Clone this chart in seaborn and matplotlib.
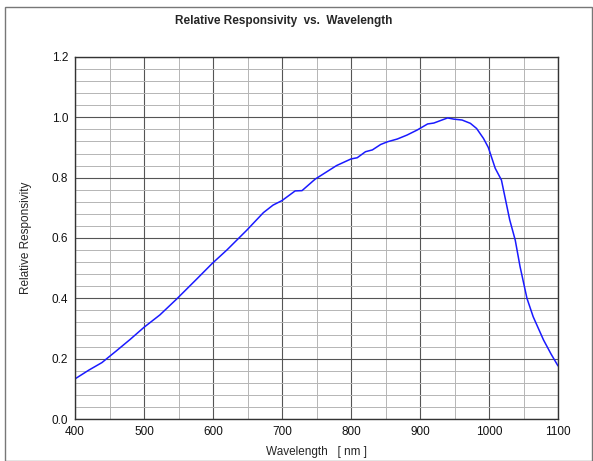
import numpy as np
import pandas as pd
import seaborn as sns
import matplotlib.pyplot as plt
from matplotlib.patches import Rectangle
from matplotlib.ticker import MultipleLocator

wavelength = [400, 420, 439, 460, 480, 500, 523, 547, 576, 599, 620, 649, 673, 687, 700,
              719, 729, 741, 748, 779, 800, 809, 821, 831, 843, 853, 867, 881, 896, 911,
              920, 940, 949, 961, 973, 982, 992, 999, 1009, 1018, 1030, 1038, 1045, 1055,
              1064, 1079, 1090, 1100]
responsivity = [0.133, 0.162, 0.187, 0.226, 0.264, 0.304, 0.345, 0.397, 0.463, 0.516, 0.56,
                0.626, 0.684, 0.709, 0.724, 0.756, 0.757, 0.781, 0.795, 0.84, 0.862, 0.866,
                0.886, 0.892, 0.91, 0.919, 0.928, 0.941, 0.958, 0.978, 0.981, 0.998, 0.994,
                0.991, 0.98, 0.963, 0.93, 0.90, 0.831, 0.792, 0.66, 0.593, 0.505, 0.40,
                0.339, 0.262, 0.215, 0.176]

df = pd.DataFrame({'wavelength': wavelength, 'responsivity': responsivity})

sns.set_style('white')
plt.rcParams['font.family'] = ['Liberation Sans', 'DejaVu Sans']

fig = plt.figure(figsize=(5.93, 4.61), dpi=100)
ax = fig.add_axes([0.1265, 0.0911, 0.8145, 0.7853])

sns.lineplot(data=df, x='wavelength', y='responsivity', ax=ax, color='#1a1aff', linewidth=1.1)

ax.set_xlim(400, 1100)
ax.set_ylim(0, 1.2)
ax.xaxis.set_major_locator(MultipleLocator(100))
ax.xaxis.set_minor_locator(MultipleLocator(50))
ax.yaxis.set_major_locator(MultipleLocator(0.2))
ax.yaxis.set_minor_locator(MultipleLocator(0.04))
ax.grid(which='major', color='#555555', linewidth=0.8)
ax.grid(which='minor', color='#b5b5b5', linewidth=0.7)
ax.set_axisbelow(True)
ax.tick_params(which='both', length=0, labelsize=8.5, pad=5, colors='#111111')
ax.yaxis.set_major_formatter(plt.FuncFormatter(lambda v, p: f'{v:.1f}'))
for s in ax.spines.values():
    s.set_color('#333333')
    s.set_linewidth(1.0)

ax.set_xlabel('Wavelength   [ nm ]', fontsize=8.5, labelpad=6)
ax.set_ylabel('Relative Responsivity', fontsize=8.5, labelpad=14)
fig.text(0.478, 0.955, 'Relative Responsivity  vs.  Wavelength', ha='center', va='center',
         fontsize=8.5, fontweight='bold')

fig.patches.append(Rectangle((0.008, 0.0), 0.99, 0.985, transform=fig.transFigure,
                             fill=False, edgecolor='#777777', linewidth=1.0))

fig.savefig('out.png', dpi=100)
